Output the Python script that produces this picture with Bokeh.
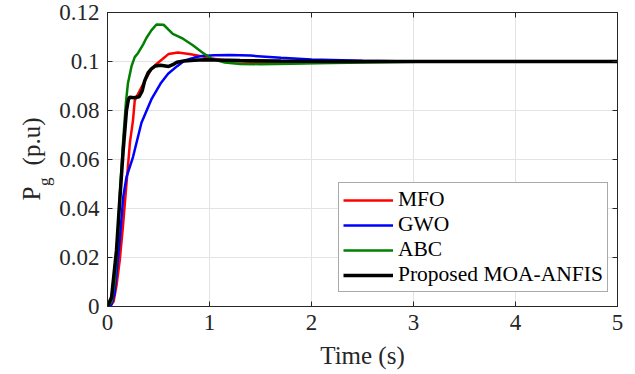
from bokeh.plotting import figure
from bokeh.models import Range1d, LinearAxis, FixedTicker, Legend, LegendItem
from bokeh.layouts import row
from bokeh.core.properties import value
from bokeh.embed import file_html
from bokeh.resources import INLINE
import math

# ---------------- data ----------------
x_ticks = [0, 1, 2, 3, 4, 5]
y_ticks = [0, 0.02, 0.04, 0.06, 0.08, 0.1, 0.12]
y_tick_labels = ["0", "0.02", "0.04", "0.06", "0.08", "0.1", "0.12"]

series_names = ["MFO", "GWO", "ABC", "Proposed MOA-ANFIS"]

t_mfo = [0, 0.03, 0.06, 0.09, 0.12, 0.15, 0.186, 0.22, 0.25, 0.267, 0.30, 0.365, 0.43,
         0.48, 0.54, 0.60, 0.69, 0.80, 0.92, 1.02, 1.2, 1.5, 2.0, 3.0, 5.0]
v_mfo = [0, 0.0003, 0.002, 0.009, 0.0188, 0.032, 0.050, 0.067, 0.076, 0.084, 0.0868,
         0.092, 0.097, 0.099, 0.101, 0.1031, 0.1037, 0.1031, 0.1022, 0.1012, 0.1002,
         0.0997, 0.0998, 0.1, 0.1]

t_gwo = [0, 0.04, 0.068, 0.09, 0.12, 0.154, 0.186, 0.25, 0.333, 0.43, 0.52, 0.594,
         0.68, 0.756, 0.85, 0.92, 1.05, 1.2, 1.4, 1.7, 2.0, 2.5, 3.0, 5.0]
v_gwo = [0, 0.0008, 0.005, 0.014, 0.027, 0.0446, 0.0528, 0.061, 0.075, 0.0845, 0.091,
         0.095, 0.098, 0.1004, 0.1016, 0.1022, 0.1026, 0.1027, 0.1024, 0.1015, 0.1008,
         0.1003, 0.1, 0.1]

t_abc = [0, 0.04, 0.07, 0.10, 0.12, 0.154, 0.18, 0.20, 0.235, 0.267, 0.30, 0.35, 0.38,
         0.43, 0.48, 0.55, 0.64, 0.74, 0.84, 0.92, 1.02, 1.15, 1.3, 1.5, 1.8, 2.2, 2.7,
         3.2, 5.0]
v_abc = [0, 0.002, 0.010, 0.027, 0.045, 0.068, 0.083, 0.091, 0.098, 0.1018, 0.1035,
         0.107, 0.1095, 0.1127, 0.1151, 0.1150, 0.1113, 0.1093, 0.1065, 0.104, 0.1011,
         0.0996, 0.0990, 0.0989, 0.0991, 0.0994, 0.0997, 0.1, 0.1]

t_moa = [0, 0.04, 0.088, 0.12, 0.154, 0.186, 0.205, 0.218, 0.26, 0.31, 0.34, 0.365,
         0.40, 0.43, 0.47, 0.52, 0.60, 0.64, 0.68, 0.75, 0.85, 0.95, 1.05, 1.3, 1.7,
         2.2, 3.0, 5.0]
v_moa = [0, 0.0038, 0.0229, 0.0433, 0.0637, 0.080, 0.0845, 0.0854, 0.0852, 0.0856,
         0.088, 0.0922, 0.0955, 0.097, 0.0982, 0.0985, 0.098, 0.0987, 0.0997, 0.1002,
         0.1005, 0.1007, 0.1006, 0.1004, 0.1002, 0.1, 0.1, 0.1]

y_label_parts = ["P", "g", "(p.u)"]

FONT = "Liberation Serif"
TXT = "#262626"
H = 374
TOP, BOTTOM = 12, 68
LAB_W = 56

yr = Range1d(0, 0.12)

# ---------- narrow figure holding the rotated y-axis title ----------
lab = figure(width=LAB_W, height=H, output_backend="svg", toolbar_location=None,
             x_range=Range1d(0, LAB_W), y_range=yr, min_border_left=0,
             min_border_right=0, min_border_top=TOP, min_border_bottom=BOTTOM,
             x_axis_type=None, y_axis_type=None, outline_line_color=None,
             background_fill_color="white", border_fill_color="white")
lab.grid.visible = False
lab.text(x=[31, 44, 31], y=[0.0433, 0.0492, 0.0576], text=y_label_parts,
         angle=math.pi / 2, text_font=value(FONT),
         text_font_size=["25px", "17px", "25px"],
         text_color=TXT, text_baseline="alphabetic", text_align="left")

# ---------------- main figure ----------------
p = figure(width=571, height=H, output_backend="svg", toolbar_location=None,
           x_range=Range1d(0, 5), y_range=yr,
           min_border_left=50, min_border_right=10, min_border_top=TOP,
           min_border_bottom=BOTTOM, background_fill_color="white",
           border_fill_color="white")
p.outline_line_color = TXT
p.outline_line_width = 1

xt = FixedTicker(ticks=x_ticks, minor_ticks=[])
yt = FixedTicker(ticks=y_ticks, minor_ticks=[])

bottom = p.below[0]
left = p.left[0]
bottom.ticker = xt
left.ticker = yt
left.major_label_overrides = {v: s for v, s in zip(y_ticks, y_tick_labels)}

top = LinearAxis(ticker=xt, major_label_overrides={v: "" for v in x_ticks})
right = LinearAxis(ticker=yt, major_label_overrides={v: "" for v in y_ticks})
p.add_layout(top, "above")
p.add_layout(right, "right")

for ax in [bottom, left, top, right]:
    ax.axis_line_color = TXT
    ax.major_tick_line_color = TXT
    ax.major_tick_in = 5
    ax.major_tick_out = 0
    ax.minor_tick_line_color = None
    ax.major_label_text_font = FONT
    ax.major_label_text_font_size = "23px"
    ax.major_label_text_color = TXT
for ax in [top, right]:
    ax.major_label_standoff = 0

left.major_label_standoff = 8
bottom.major_label_standoff = 8
bottom.axis_label = "Time (s)"
bottom.axis_label_text_font = FONT
bottom.axis_label_text_font_size = "25px"
bottom.axis_label_text_font_style = "normal"
bottom.axis_label_text_color = TXT
bottom.axis_label_standoff = 9

p.xgrid.grid_line_color = "#e3e3e3"
p.ygrid.grid_line_color = "#e3e3e3"
p.xgrid.ticker = xt
p.ygrid.ticker = yt

colors = ["#ff0000", "#0000ff", "#008000", "#000000"]
widths = [2.5, 2.5, 2.5, 3.5]
data = [(t_mfo, v_mfo), (t_gwo, v_gwo), (t_abc, v_abc), (t_moa, v_moa)]
items = []
for name, (t, v), c, w in zip(series_names, data, colors, widths):
    r = p.line(t, v, line_color=c, line_width=w)
    items.append(LegendItem(label=name, renderers=[r]))

legend = Legend(items=items, location=(231, 14), border_line_color="#555555",
                border_line_width=1, background_fill_color="white",
                background_fill_alpha=1.0, label_text_font=FONT,
                label_text_font_size="21.5px", label_text_color="#000000",
                glyph_width=50, glyph_height=20, label_height=20, spacing=0,
                padding=4, margin=0, label_standoff=5)
p.add_layout(legend)

layout = row(lab, p, spacing=0)
open("out.html", "w").write(file_html(layout, INLINE))
